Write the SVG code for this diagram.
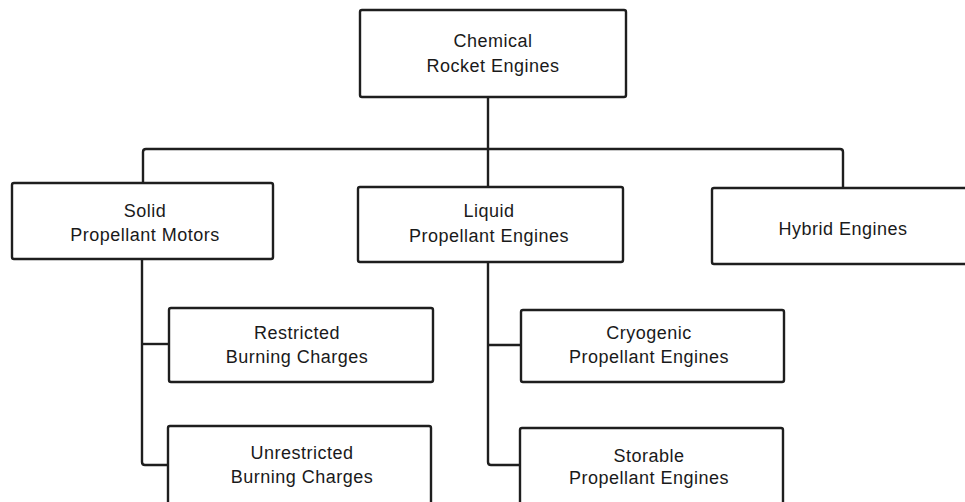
<svg xmlns="http://www.w3.org/2000/svg" width="965" height="502" viewBox="0 0 965 502">
<style>
.box{fill:#fff;stroke:#1e1e1e;stroke-width:2.4}
.conn{fill:none;stroke:#1e1e1e;stroke-width:2.4;stroke-linejoin:round}
text{font-family:"Liberation Sans",Arial,sans-serif;font-size:18px;fill:#1a1a1a;text-anchor:middle;letter-spacing:0.5px}
</style>
<rect width="965" height="502" fill="#fff"/>
<g id="connectors">
<path class="conn" d="M488 97 V188"/>
<path class="conn" d="M143 184 V152 Q143 149 146 149 H840 Q843 149 843 152 V188"/>
<path class="conn" d="M142 259 V462 Q142 465 145 465 H168"/>
<path class="conn" d="M142 344 H169"/>
<path class="conn" d="M488 262 V462 Q488 465 491 465 H520"/>
<path class="conn" d="M488 345 H521"/>
</g>
<g id="chemical">
<rect class="box" x="360" y="10" width="266" height="87" rx="2"/>
<text x="493" y="47">Chemical</text>
<text x="493" y="72">Rocket Engines</text>
</g>
<g id="solid">
<rect class="box" x="12" y="183" width="261" height="76" rx="2"/>
<text x="145" y="217">Solid</text>
<text x="145" y="241">Propellant Motors</text>
</g>
<g id="liquid">
<rect class="box" x="358" y="187" width="265" height="75" rx="2"/>
<text x="489" y="217">Liquid</text>
<text x="489" y="242">Propellant Engines</text>
</g>
<g id="hybrid">
<rect class="box" x="712" y="188" width="270" height="76" rx="2"/>
<text x="843" y="235">Hybrid Engines</text>
</g>
<g id="restricted">
<rect class="box" x="169" y="308" width="264" height="74" rx="2"/>
<text x="297" y="339">Restricted</text>
<text x="297" y="363">Burning Charges</text>
</g>
<g id="unrestricted">
<rect class="box" x="168" y="426" width="263" height="90" rx="2"/>
<text x="302" y="459">Unrestricted</text>
<text x="302" y="483">Burning Charges</text>
</g>
<g id="cryogenic">
<rect class="box" x="521" y="310" width="263" height="72" rx="2"/>
<text x="649" y="339">Cryogenic</text>
<text x="649" y="363">Propellant Engines</text>
</g>
<g id="storable">
<rect class="box" x="520" y="428" width="263" height="90" rx="2"/>
<text x="649" y="462">Storable</text>
<text x="649" y="484">Propellant Engines</text>
</g>
</svg>
